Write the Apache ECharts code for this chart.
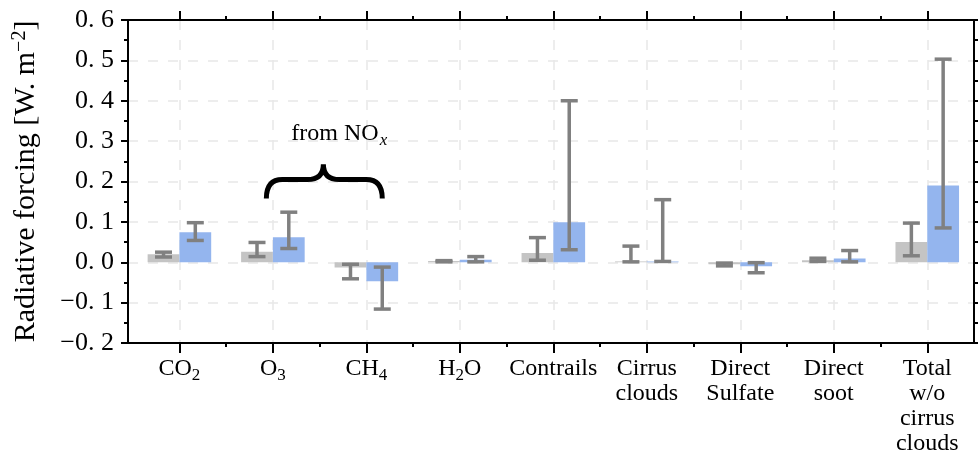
<!DOCTYPE html>
<html>
<head>
<meta charset="utf-8">
<script src="https://cdn.jsdelivr.net/npm/echarts@6/dist/echarts.min.js"></script>
<style>
  html, body { margin: 0; padding: 0; background: #fff; }
  #main { width: 978px; height: 459px; }
</style>
</head>
<body>
<div id="main"></div>
<script>
// categories + tick labels (rich markup for sub/superscripts)
const categories = ["CO2", "O3", "CH4", "H2O", "Contrails", "Cirrus clouds", "Direct Sulfate", "Direct soot", "Total w/o cirrus clouds"];
const categoryLabels = [
  "{m|CO}{s|2}",
  "{m|O}{s|3}",
  "{m|CH}{s|4}",
  "{m|H}{s|2}{m|O}",
  "Contrails",
  "Cirrus\nclouds",
  "Direct\nSulfate",
  "Direct\nsoot",
  "Total\nw/o\ncirrus\nclouds"
];
const categoryIndex = [0, 1, 2, 3, 4, 5, 6, 7, 8];

// grey series: value, lower and upper error
const greyValues = [0.020, 0.026, -0.013, 0.003, 0.023, 0.002, -0.005, 0.005, 0.050];
const greyLow    = [0.013, 0.014, -0.041, 0.001, 0.005, 0.001, -0.009, 0.002, 0.016];
const greyHigh   = [0.025, 0.049, -0.005, 0.004, 0.061, 0.040, -0.002, 0.010, 0.097];

// blue series
const blueValues = [0.074, 0.062, -0.047, 0.006, 0.099, 0.002, -0.010, 0.009, 0.190];
const blueLow    = [0.054, 0.034, -0.116, 0.001, 0.031, 0.002, -0.026, 0.001, 0.085];
const blueHigh   = [0.098, 0.124, -0.012, 0.014, 0.400, 0.155, -0.001, 0.029, 0.503];

const yTicks = [-0.2, -0.1, 0.0, 0.1, 0.2, 0.3, 0.4, 0.5, 0.6];

const FONT = "'Liberation Serif', 'DejaVu Serif', serif";
const GREY = "#c4c4c4";
const BLUE = "#94b5ee";
const ERR = "#808080";
const BAR_W = 0.34;

const minorX = categoryIndex.slice(0, 8).map(i => i + 0.5);

function fmtY(v) {
  const s = Math.abs(v).toFixed(1).replace(".", ". ");
  return (v < -1e-9 ? "\u2212" : "") + s;
}

function barItem(side, color) {
  return function (params, api) {
    const x = api.value(0), v = api.value(1), lo = api.value(2), hi = api.value(3);
    const x0 = side < 0 ? x - BAR_W : x;
    const p0 = api.coord([x0, 0]);
    const p1 = api.coord([x0 + BAR_W, v]);
    const xc = (p0[0] + p1[0]) / 2;
    const yLo = api.coord([x, lo])[1];
    const yHi = api.coord([x, hi])[1];
    const cap = 8.5;
    const errStyle = { stroke: ERR, lineWidth: 3.5, lineCap: "butt" };
    return {
      type: "group",
      children: [
        { type: "rect", shape: { x: p0[0], y: Math.min(p0[1], p1[1]), width: p1[0] - p0[0], height: Math.abs(p1[1] - p0[1]) }, style: { fill: color } },
        { type: "line", shape: { x1: xc, y1: yLo, x2: xc, y2: yHi }, style: errStyle },
        { type: "line", shape: { x1: xc - cap, y1: yLo, x2: xc + cap, y2: yLo }, style: errStyle },
        { type: "line", shape: { x1: xc - cap, y1: yHi, x2: xc + cap, y2: yHi }, style: errStyle }
      ]
    };
  };
}

// brace over O3 / CH4 ("from NOx")
const brace = { x0: 0.93, x1: 2.17, tip: 1.54, yEnd: 0.158, yBody: 0.205, yTip: 0.243, textX: 1.71, textY: 0.318 };

function braceItem(params, api) {
  const a = api.coord([brace.x0, brace.yEnd]);
  const b = api.coord([brace.x0, brace.yBody]);
  const t = api.coord([brace.tip, brace.yTip]);
  const e = api.coord([brace.x1, brace.yEnd]);
  const lbl = api.coord([brace.textX, brace.textY]);
  const yb = b[1], r = 16;
  const d = "M" + a[0] + "," + a[1] +
    " Q" + a[0] + "," + yb + " " + (a[0] + r) + "," + yb +
    " L" + (t[0] - r) + "," + yb +
    " Q" + t[0] + "," + yb + " " + t[0] + "," + t[1] +
    " Q" + t[0] + "," + yb + " " + (t[0] + r) + "," + yb +
    " L" + (e[0] - r) + "," + yb +
    " Q" + e[0] + "," + yb + " " + e[0] + "," + e[1];
  return {
    type: "group",
    children: [
      { type: "path", shape: { pathData: d }, style: { stroke: "#000", lineWidth: 5, fill: null } },
      {
        type: "text", x: lbl[0], y: lbl[1],
        style: {
          text: "{m|from NO}{i|x}", align: "center", verticalAlign: "middle",
          rich: {
            m: { fontFamily: FONT, fontSize: 24, fill: "#000", lineHeight: 25 },
            i: { fontFamily: FONT, fontSize: 17, fontStyle: "italic", fill: "#000", lineHeight: 17, padding: [14, 0, 0, 1] }
          }
        }
      }
    ]
  };
}

const labelRich = {
  m: { fontFamily: FONT, fontSize: 24, color: "#000", lineHeight: 25 },
  s: { fontFamily: FONT, fontSize: 17, color: "#000", lineHeight: 17, padding: [14, 0, 0, 0] }
};

function xAxisCommon(extra) {
  return Object.assign({
    type: "value", gridIndex: 0, min: -0.55, max: 8.5,
    axisLine: { show: false, onZero: false },
    axisLabel: { show: false },
    splitLine: { show: false },
    minorTick: { show: false }
  }, extra);
}

const chart = echarts.init(document.getElementById("main"), null, { renderer: "canvas" });
chart.setOption({
  animation: false,
  backgroundColor: "#fff",
  grid: { left: 128, right: 4, top: 20, bottom: 116, containLabel: false },
  xAxis: [
    xAxisCommon({
      position: "bottom",
      axisLine: { show: true, onZero: false, lineStyle: { color: "#000", width: 2 } },
      axisTick: { show: true, customValues: categoryIndex, length: 10, lineStyle: { color: "#000", width: 2 } },
      axisLabel: {
        show: true, customValues: categoryIndex, margin: 13,
        fontFamily: FONT, fontSize: 24, color: "#000", lineHeight: 25, align: "center",
        formatter: v => categoryLabels[Math.round(v)],
        rich: labelRich
      },
      splitLine: { show: true, lineStyle: { color: "#e8e8e8", width: 1.5, type: [10, 10] } }
    }),
    xAxisCommon({
      position: "bottom",
      axisTick: { show: true, customValues: minorX, length: 4, lineStyle: { color: "#000", width: 2 } }
    }),
    xAxisCommon({
      position: "top",
      axisLine: { show: true, onZero: false, lineStyle: { color: "#000", width: 2 } },
      axisTick: { show: true, customValues: categoryIndex, length: 9, lineStyle: { color: "#000", width: 2 } }
    }),
    xAxisCommon({
      position: "top",
      axisTick: { show: true, customValues: minorX, length: 4, lineStyle: { color: "#000", width: 2 } }
    })
  ],
  yAxis: [
    {
      type: "value", min: -0.2, max: 0.6, interval: 0.1, position: "left",
      name: "{m|Radiative forcing [W. m}{p|\u22122}{m|]}",
      nameLocation: "middle", nameGap: 86, nameRotate: 90,
      nameTextStyle: {
        rich: {
          m: { fontFamily: FONT, fontSize: 30, color: "#000", lineHeight: 32 },
          p: { fontFamily: FONT, fontSize: 20, color: "#000", verticalAlign: "top", lineHeight: 14 }
        }
      },
      axisLine: { show: true, onZero: false, lineStyle: { color: "#000", width: 2 } },
      axisTick: { show: true, length: 7, lineStyle: { color: "#000", width: 2 } },
      minorTick: { show: true, splitNumber: 2, length: 4, lineStyle: { color: "#000", width: 2 } },
      axisLabel: { margin: 14, fontFamily: FONT, fontSize: 26, color: "#000", formatter: fmtY },
      splitLine: { show: true, lineStyle: { color: "#e8e8e8", width: 1.5, type: [10, 10] } }
    },
    {
      type: "value", min: -0.2, max: 0.6, interval: 0.1, position: "right",
      axisLine: { show: true, onZero: false, lineStyle: { color: "#000", width: 2 } },
      axisTick: { show: true, length: 6, lineStyle: { color: "#000", width: 2 } },
      minorTick: { show: true, splitNumber: 2, length: 4, lineStyle: { color: "#000", width: 2 } },
      axisLabel: { show: false },
      splitLine: { show: false }
    }
  ],
  series: [
    {
      name: "grey", type: "custom", xAxisIndex: 0, yAxisIndex: 0,
      renderItem: barItem(-1, GREY),
      encode: { x: 0, y: 1 },
      data: categoryIndex.map(i => [i, greyValues[i], greyLow[i], greyHigh[i]])
    },
    {
      name: "blue", type: "custom", xAxisIndex: 0, yAxisIndex: 0,
      renderItem: barItem(1, BLUE),
      encode: { x: 0, y: 1 },
      data: categoryIndex.map(i => [i, blueValues[i], blueLow[i], blueHigh[i]])
    },
    {
      name: "brace", type: "custom", xAxisIndex: 0, yAxisIndex: 0,
      renderItem: braceItem, silent: true,
      encode: { x: 0, y: 1 },
      data: [[brace.tip, brace.yTip]]
    }
  ]
});
</script>
</body>
</html>
